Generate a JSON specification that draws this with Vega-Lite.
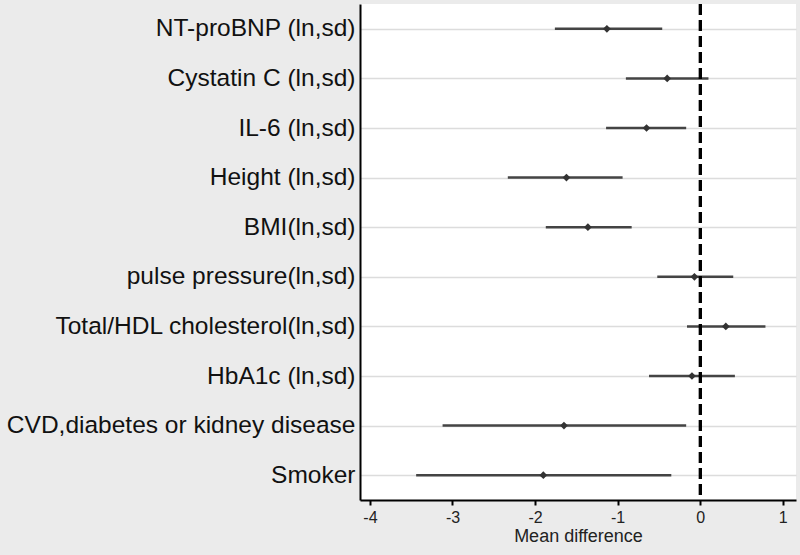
{
  "$schema": "https://vega.github.io/schema/vega-lite/v6.json",
  "width": 436,
  "height": 496,
  "autosize": {"type": "none"},
  "padding": {"left": 360, "top": 4, "right": 4, "bottom": 55},
  "background": "#ebebeb",
  "config": {
    "view": {"fill": "white", "stroke": null},
    "font": "Liberation Sans"
  },
  "data": {
    "values": [
      {"var": "NT-proBNP (ln,sd)", "est": -1.13, "lo": -1.76, "hi": -0.46},
      {"var": "Cystatin C (ln,sd)", "est": -0.40, "lo": -0.90, "hi": 0.10},
      {"var": "IL-6 (ln,sd)", "est": -0.65, "lo": -1.14, "hi": -0.17},
      {"var": "Height (ln,sd)", "est": -1.62, "lo": -2.33, "hi": -0.94},
      {"var": "BMI(ln,sd)", "est": -1.36, "lo": -1.87, "hi": -0.83},
      {"var": "pulse pressure(ln,sd)", "est": -0.07, "lo": -0.52, "hi": 0.40},
      {"var": "Total/HDL cholesterol(ln,sd)", "est": 0.31, "lo": -0.16, "hi": 0.79},
      {"var": "HbA1c (ln,sd)", "est": -0.10, "lo": -0.62, "hi": 0.42},
      {"var": "CVD,diabetes or kidney disease", "est": -1.65, "lo": -3.12, "hi": -0.17},
      {"var": "Smoker", "est": -1.90, "lo": -3.44, "hi": -0.35}
    ]
  },
  "layer": [
    {
      "mark": {"type": "rule", "color": "#444444", "strokeWidth": 2.5},
      "encoding": {
        "y": {
          "field": "var",
          "type": "nominal",
          "sort": null,
          "scale": {"type": "point", "padding": 0.5},
          "axis": {
            "title": null,
            "labelFontSize": 24.5,
            "labelColor": "#111111",
            "labelPadding": 5,
            "ticks": false,
            "grid": true,
            "gridColor": "#dcdcdc",
            "gridWidth": 1.5,
            "domainColor": "#000000",
            "domainWidth": 2,
            "labelLimit": 400
          }
        },
        "x": {
          "field": "lo",
          "type": "quantitative",
          "scale": {"domain": [-4.12, 1.16], "nice": false, "zero": false},
          "axis": {
            "title": "Mean difference",
            "titleFontSize": 18,
            "titleFontWeight": "normal",
            "titleColor": "#222222",
            "titlePadding": 2,
            "values": [-4, -3, -2, -1, 0, 1],
            "labelExpr": "'' + datum.value",
            "labelFontSize": 16,
            "labelColor": "#222222",
            "labelPadding": 4,
            "tickColor": "#000000",
            "tickSize": 5,
            "tickWidth": 2,
            "domainColor": "#000000",
            "domainWidth": 2,
            "grid": false
          }
        },
        "x2": {"field": "hi"}
      }
    },
    {
      "mark": {"type": "rule", "color": "#000000", "strokeWidth": 2.5, "strokeDash": [11, 5]},
      "encoding": {"x": {"datum": 0}}
    },
    {
      "mark": {"type": "point", "shape": "diamond", "filled": true, "color": "#333333", "size": 60, "opacity": 1},
      "encoding": {
        "x": {"field": "est", "type": "quantitative"},
        "y": {"field": "var", "type": "nominal", "sort": null}
      }
    }
  ]
}
